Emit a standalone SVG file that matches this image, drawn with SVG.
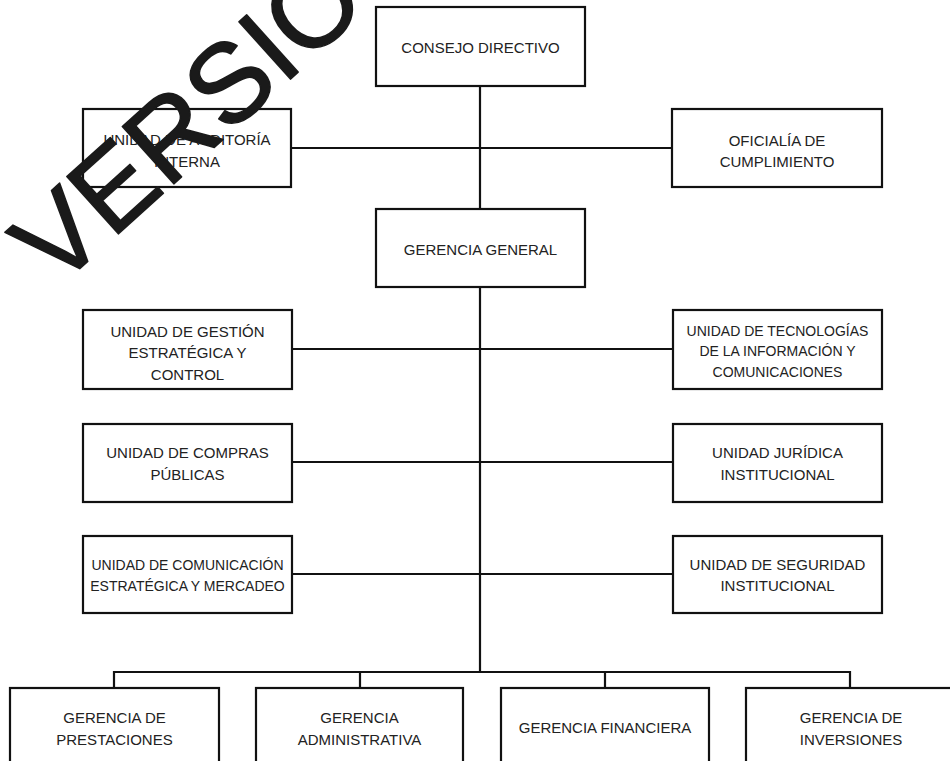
<svg xmlns="http://www.w3.org/2000/svg" width="950" height="761" viewBox="0 0 950 761">
<style>
.box{fill:#fff;stroke:#111;stroke-width:2.2}
.ln{fill:none;stroke:#111;stroke-width:2.2}
.t{font-family:"Liberation Sans",Arial,sans-serif;font-size:15px;fill:#222;text-anchor:middle}
.s{font-size:14px}
.wm{font-family:"Liberation Sans",Arial,sans-serif;font-size:112px;fill:#1a1a1a;stroke:#1a1a1a;stroke-width:1.5;stroke-linejoin:round}
</style>
<rect width="950" height="761" fill="#fff"/>
<g id="connectors">
<path class="ln" d="M480 86V672M291 148H672M292 349H673M292 462H673M292 574H673M114 688V672H850V688M360 672V688M605 672V688"/>
</g>
<g id="consejo"><rect class="box" x="376" y="7" width="209" height="79"/><text class="t" x="480.5" y="53">CONSEJO DIRECTIVO</text></g>
<g id="auditoria"><rect class="box" x="83" y="109" width="208" height="78"/><text class="t" x="187" y="145">UNIDAD DE AUDITORÍA</text><text class="t" x="187" y="167">INTERNA</text></g>
<g id="oficialia"><rect class="box" x="672" y="109" width="210" height="78"/><text class="t" x="777" y="146">OFICIALÍA DE</text><text class="t" x="777" y="167">CUMPLIMIENTO</text></g>
<g id="gerencia-general"><rect class="box" x="376" y="209" width="209" height="78"/><text class="t" x="480.5" y="255">GERENCIA GENERAL</text></g>
<g id="gestion"><rect class="box" x="83" y="310" width="209" height="79"/><text class="t" x="187.5" y="337">UNIDAD DE GESTIÓN</text><text class="t" x="187.5" y="358">ESTRATÉGICA Y</text><text class="t" x="187.5" y="380">CONTROL</text></g>
<g id="tecnologias"><rect class="box" x="673" y="310" width="209" height="79"/><text class="t s" x="777.5" y="336">UNIDAD DE TECNOLOGÍAS</text><text class="t s" x="777.5" y="356">DE LA INFORMACIÓN Y</text><text class="t s" x="777.5" y="377">COMUNICACIONES</text></g>
<g id="compras"><rect class="box" x="83" y="424" width="209" height="78"/><text class="t" x="187.5" y="458">UNIDAD DE COMPRAS</text><text class="t" x="187.5" y="480">PÚBLICAS</text></g>
<g id="juridica"><rect class="box" x="673" y="424" width="209" height="78"/><text class="t" x="777.5" y="458">UNIDAD JURÍDICA</text><text class="t" x="777.5" y="480">INSTITUCIONAL</text></g>
<g id="comunicacion"><rect class="box" x="83" y="536" width="209" height="77"/><text class="t s" x="187.5" y="570">UNIDAD DE COMUNICACIÓN</text><text class="t s" x="187.5" y="591">ESTRATÉGICA Y MERCADEO</text></g>
<g id="seguridad"><rect class="box" x="673" y="536" width="209" height="77"/><text class="t" x="777.5" y="570">UNIDAD DE SEGURIDAD</text><text class="t" x="777.5" y="591">INSTITUCIONAL</text></g>
<g id="prestaciones"><rect class="box" x="10" y="688" width="209" height="100"/><text class="t" x="114.5" y="723">GERENCIA DE</text><text class="t" x="114.5" y="745">PRESTACIONES</text></g>
<g id="administrativa"><rect class="box" x="256" y="688" width="207" height="100"/><text class="t" x="359.5" y="723">GERENCIA</text><text class="t" x="359.5" y="745">ADMINISTRATIVA</text></g>
<g id="financiera"><rect class="box" x="501" y="688" width="208" height="100"/><text class="t" x="605" y="733">GERENCIA FINANCIERA</text></g>
<g id="inversiones"><rect class="box" x="746" y="688" width="210" height="100"/><text class="t" x="851" y="723">GERENCIA DE</text><text class="t" x="851" y="745">INVERSIONES</text></g>
<text class="wm" transform="translate(56 290) rotate(-42)">VERSIO</text>
</svg>
